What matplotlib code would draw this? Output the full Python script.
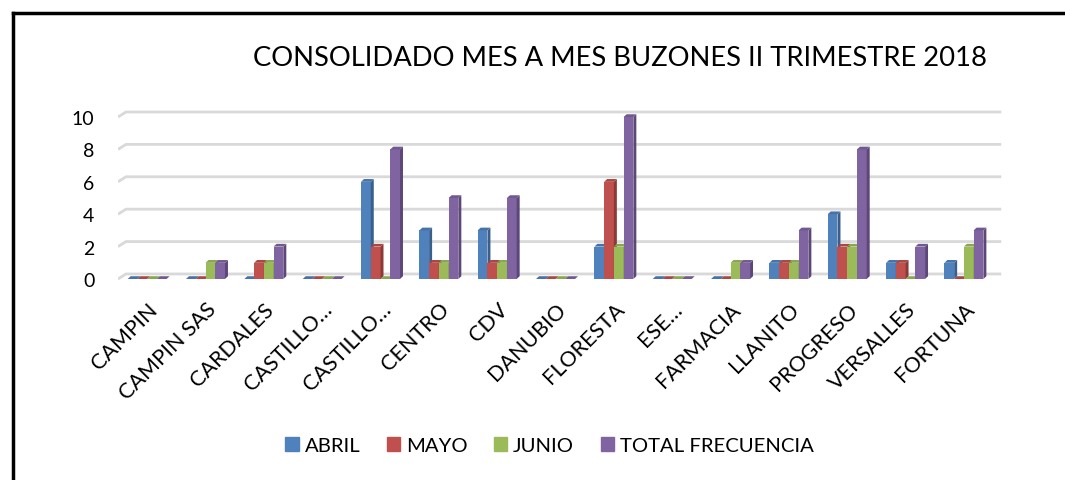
import numpy as np
import matplotlib
matplotlib.use('Agg')
import matplotlib.pyplot as plt
from matplotlib.patches import Polygon, Rectangle
from matplotlib.lines import Line2D

'''
consolidado mes a mes de buzones, barras con efecto 3d estilo excel
'''

categorias = ['CAMPIN', 'CAMPIN SAS', 'CARDALES', 'CASTILLO…', 'CASTILLO…', 'CENTRO', 'CDV',
              'DANUBIO', 'FLORESTA', 'ESE…', 'FARMACIA', 'LLANITO', 'PROGRESO', 'VERSALLES', 'FORTUNA']
abril = [0, 0, 0, 0, 6, 3, 3, 0, 2, 0, 0, 1, 4, 1, 1]
mayo = [0, 0, 1, 0, 2, 1, 1, 0, 6, 0, 0, 1, 2, 1, 0]
junio = [0, 1, 1, 0, 0, 1, 1, 0, 2, 0, 1, 1, 2, 0, 2]
total = [0, 1, 2, 0, 8, 5, 5, 0, 10, 0, 1, 3, 8, 2, 3]
series = ['ABRIL', 'MAYO', 'JUNIO', 'TOTAL FRECUENCIA']
yticks = [0, 2, 4, 6, 8, 10]

colores = ['#4F81BD', '#C0504D', '#9BBB59', '#8064A2']
lados = ['#3A5F8C', '#8C3A38', '#71893F', '#5C4778']
techos = ['#4672A8', '#A94643', '#88A64E', '#705990']

plt.rcParams['font.family'] = ['Lato', 'DejaVu Sans']

fig = plt.figure(figsize=(10.65, 4.81), dpi=100)
ax = fig.add_axes([118 / 1065, 1 - 281.6 / 481, 892 / 1065, 173.3 / 481])
ax.set_xlim(-0.5, 14.79)
ax.set_ylim(-0.1, 10.6)

# profundidad de las barras y de la pared del fondo (en unidades de datos)
bdx, bdy = 0.051, 0.17
gdx, gdy = 0.137, 0.31
ancho = 0.167

x = np.arange(len(categorias))

# lineas de la cuadricula en la pared del fondo
for t in yticks:
    ax.plot([-0.5, -0.5 + gdx, 14.64], [t, t + gdy, t + gdy], color='#D9D9D9', lw=2, zorder=0,
            solid_capstyle='butt')

datos = [abril, mayo, junio, total]
for i, vals in enumerate(datos):
    xs = x + (i - 1.5) * ancho
    ax.bar(xs, vals, width=ancho, color=colores[i], zorder=2 + i)
    for xc, h in zip(xs, vals):
        x0 = xc - ancho / 2
        x1 = xc + ancho / 2
        lado = Polygon([(x1, 0), (x1 + bdx, bdy), (x1 + bdx, h + bdy), (x1, h)],
                       closed=True, facecolor=lados[i], edgecolor='none', zorder=2 + i)
        techo = Polygon([(x0, h), (x0 + bdx, h + bdy), (x1 + bdx, h + bdy), (x1, h)],
                        closed=True, facecolor=techos[i], edgecolor='none', zorder=2 + i)
        ax.add_patch(lado)
        ax.add_patch(techo)

for s in ax.spines.values():
    s.set_visible(False)
ax.set_yticks(yticks)
ax.set_yticklabels([str(t) for t in yticks], fontsize=14)
ax.tick_params(axis='y', length=0, pad=17)
ax.set_xticks(x)
ax.set_xticklabels(categorias, rotation=45, ha='right', rotation_mode='anchor', fontsize=15.5)
ax.tick_params(axis='x', length=0, pad=13)

fig.text(0.582, 0.879, 'CONSOLIDADO MES A MES BUZONES II TRIMESTRE 2018', fontsize=19.7,
         ha='center', va='center')

handles = [Rectangle((0, 0), 1, 1, color=c) for c in colores]
fig.legend(handles, series, loc='center', bbox_to_anchor=(0.516, 0.071), ncol=4, frameon=False,
           fontsize=14.6, handlelength=0.65, handleheight=0.65, handletextpad=0.3, columnspacing=1.3)

# marco negro arriba e izquierda
fig.add_artist(Line2D([12.5 / 1065, 1], [1 - 14 / 481, 1 - 14 / 481], color='black', lw=2.5))
fig.add_artist(Line2D([12.5 / 1065, 12.5 / 1065], [0, 1 - 14 / 481], color='black', lw=2.5))

fig.savefig('out.png', dpi=100)
